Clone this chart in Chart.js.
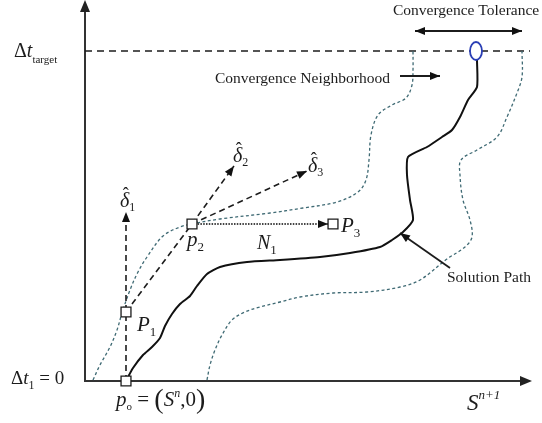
<!DOCTYPE html>
<html>
<head>
<meta charset="utf-8">
<script src="https://cdn.jsdelivr.net/npm/chart.js@4"></script>
<style>
  html, body { margin: 0; padding: 0; background: #fff; }
  canvas { display: block; }
</style>
</head>
<body>
<canvas id="c" width="542" height="423"></canvas>
<script>
// Plot units: horizontal = saturation S, vertical = time-step size Δt.
const sMax = 447;
const dtMax = 381;
const dtTarget = 330;

// Traced solution path from (S^n, 0) up to the target time step
const solutionPath = [
  [42,2],[48,13],[58,26],[67,34],[75,43],[80,55],[87,67],[95,77],[105,85],
  [112,95],[122,107],[135,114],[162,119],[195,121],[235,124],[265,128],
  [295,134],[307,141],[318,149],[328,161],[325,181],[322,206],[323,224],
  [342,234],[357,244],[367,251],[375,264],[383,281],[392,294],[392,321]
];

// Lower and upper bounds of the convergence neighborhood
const neighborhoodLeft = [
  [8,1],[15,16],[25,34],[32,51],[37,68],[45,91],[53,109],[62,124],[78,145],
  [95,154],[107,157],[135,162],[185,168],[218,173],[252,179],[273,189],
  [281,201],[284,221],[286,246],[293,266],[307,276],[321,283],[327,296],
  [328,311],[328,330]
];
const neighborhoodRight = [
  [122,1],[125,16],[130,31],[137,46],[147,61],[160,69],[175,74],[195,79],
  [215,84],[248,88],[282,89],[315,94],[335,101],[362,122],[380,134],
  [387,144],[385,161],[378,181],[375,206],[376,221],[392,231],[412,244],
  [422,264],[432,288],[437,304],[437,330]
];

// Newton iterates p0..p3
const iterateS  = [41, 41, 107, 248];
const iterateDt = [0, 69, 157, 157];

// Search directions (tips of the arrows)
const delta1Tip = [41, 169];
const delta2Tip = [149, 215];
const delta3Tip = [222, 210];
const n1Tip     = [243, 157];

// Converged point on the target line
const convergedPoint = [391, 330];

// Annotation arrows
const toleranceArrow    = [[330, 350], [437, 350]];
const neighborhoodArrow = [[315, 305], [355, 305]];
const pathArrow         = [[365, 113], [315, 148]];

const pts = a => a.map(([x, y]) => ({ x, y }));
const at = i => ({ x: iterateS[i], y: iterateDt[i] });

const INK = '#1c1c1c';
const NBR = '#3f6a74';
const FONT = '"Liberation Serif","Times New Roman",serif';

// Blue ellipse marker for the converged point
const ellipse = document.createElement('canvas');
ellipse.width = 16; ellipse.height = 22;
(() => {
  const g = ellipse.getContext('2d');
  g.fillStyle = '#fff';
  g.strokeStyle = '#2b3fb5';
  g.lineWidth = 1.8;
  g.beginPath();
  g.ellipse(8, 11, 6, 9, 0, 0, Math.PI * 2);
  g.fill(); g.stroke();
})();

const line = (data, extra) => Object.assign({
  data, showLine: true, pointRadius: 0, borderColor: INK, borderWidth: 1.6,
  fill: false, tension: 0, clip: false
}, extra);

const datasets = [
  line(pts([[0, dtTarget], [445, dtTarget]]), { borderDash: [7, 5], borderWidth: 1.6, order: 9 }),
  line(pts(neighborhoodLeft),  { borderColor: NBR, borderWidth: 1.3, borderDash: [3, 2.5], tension: 0.35, order: 8 }),
  line(pts(neighborhoodRight), { borderColor: NBR, borderWidth: 1.3, borderDash: [3, 2.5], tension: 0.35, order: 8 }),
  line(pts(solutionPath), { borderColor: '#111', borderWidth: 2, tension: 0.2, order: 7 }),
  line([at(0), { x: delta1Tip[0], y: delta1Tip[1] }], { borderDash: [6, 4], arrow: 'end', order: 5 }),
  line([at(1), at(2)], { borderDash: [6, 4], order: 5 }),
  line([at(2), { x: delta2Tip[0], y: delta2Tip[1] }], { borderDash: [6, 4], arrow: 'end', order: 5 }),
  line([at(2), { x: delta3Tip[0], y: delta3Tip[1] }], { borderDash: [6, 4], arrow: 'end', order: 5 }),
  line([at(2), { x: n1Tip[0], y: n1Tip[1] }], { borderDash: [1.5, 1.3], borderWidth: 2.2, borderColor: '#444', arrow: 'end', order: 5 }),
  line(pts(toleranceArrow), { borderWidth: 2, arrow: 'both', order: 4 }),
  line(pts(neighborhoodArrow), { borderWidth: 2, arrow: 'end', order: 4 }),
  line(pts(pathArrow), { borderWidth: 1.8, arrow: 'end', order: 4 }),
  {
    data: [0, 1, 2, 3].map(at), showLine: false, pointStyle: 'rect', pointRadius: 7,
    pointBorderColor: INK, pointBackgroundColor: '#fff', pointBorderWidth: 1.3, clip: false, order: 1
  },
  {
    data: [{ x: convergedPoint[0], y: convergedPoint[1] }], showLine: false,
    pointStyle: ellipse, pointRadius: 8, clip: false, order: 0
  }
];

// Axes with arrowheads along the left and bottom of the plot
function head(ctx, from, to, len, half) {
  const a = Math.atan2(to.y - from.y, to.x - from.x);
  ctx.beginPath();
  ctx.moveTo(to.x, to.y);
  ctx.lineTo(to.x - len * Math.cos(a) + half * Math.sin(a), to.y - len * Math.sin(a) - half * Math.cos(a));
  ctx.lineTo(to.x - len * Math.cos(a) - half * Math.sin(a), to.y - len * Math.sin(a) + half * Math.cos(a));
  ctx.closePath();
  ctx.fill();
}

const axesPlugin = {
  id: 'axesPlugin',
  beforeDatasetsDraw(chart) {
    const { ctx, chartArea: c } = chart;
    ctx.save();
    ctx.strokeStyle = '#333'; ctx.fillStyle = '#222'; ctx.lineWidth = 2;
    ctx.beginPath();
    ctx.moveTo(c.left, c.top + 4); ctx.lineTo(c.left, c.bottom); ctx.lineTo(c.right - 4, c.bottom);
    ctx.stroke();
    head(ctx, { x: c.left, y: c.bottom }, { x: c.left, y: c.top }, 12, 5);
    head(ctx, { x: c.left, y: c.bottom }, { x: c.right, y: c.bottom }, 12, 5);
    ctx.restore();
  }
};

const arrowPlugin = {
  id: 'arrowPlugin',
  afterDatasetsDraw(chart) {
    const ctx = chart.ctx;
    chart.data.datasets.forEach((ds, i) => {
      if (!ds.arrow) return;
      const p = chart.getDatasetMeta(i).data;
      const n = p.length;
      ctx.save();
      ctx.fillStyle = '#111';
      head(ctx, p[n - 2], p[n - 1], 10, 4);
      if (ds.arrow === 'both') head(ctx, p[1], p[0], 10, 4);
      ctx.restore();
    });
  }
};

// Text and math labels, anchored in plot units (left edge, baseline)
const R = (t, size, o) => Object.assign({ t, size }, o);
const labels = [
  { at: [-71, 324], runs: [R('Δ', 20), R('t', 20, { italic: true }), R('target', 11, { dy: 6 })] },
  { at: [-74, -3], runs: [R('Δ', 19), R('t', 19, { italic: true }), R('1', 12, { dy: 5 }), R(' = 0', 19)] },
  { at: [31, -25], runs: [R('p', 21, { italic: true }), R('o', 11, { dy: 4 }), R(' = ', 21), R('(', 28, { dy: 2 }),
      R('S', 21, { italic: true }), R('n', 12, { italic: true, dy: -9 }), R(',0', 21), R(')', 28, { dy: 2 })] },
  { at: [382, -29], runs: [R('S', 23, { italic: true }), R('n+1', 13, { italic: true, dy: -11 })] },
  { at: [52, 50], runs: [R('P', 21, { italic: true }), R('1', 13, { dy: 5 })] },
  { at: [102, 135], runs: [R('p', 21, { italic: true }), R('2', 13, { dy: 5 })] },
  { at: [256, 149], runs: [R('P', 21, { italic: true }), R('3', 13, { dy: 5 })] },
  { at: [172, 132], runs: [R('N', 20, { italic: true }), R('1', 13, { dy: 5 })] },
  { at: [35, 174], runs: [R('δ', 20, { italic: true }), R('ˆ', 18, { over: true, dy: -7 }), R('1', 12, { dy: 4 })] },
  { at: [148, 219], runs: [R('δ', 20, { italic: true }), R('ˆ', 18, { over: true, dy: -7 }), R('2', 12, { dy: 4 })] },
  { at: [223, 209], runs: [R('δ', 20, { italic: true }), R('ˆ', 18, { over: true, dy: -7 }), R('3', 12, { dy: 4 })] },
  { at: [308, 366], runs: [R('Convergence Tolerance', 15.5)] },
  { at: [130, 298], runs: [R('Convergence Neighborhood', 15.5)] },
  { at: [362, 99], runs: [R('Solution Path', 15.5)] }
];

const labelPlugin = {
  id: 'labelPlugin',
  afterDraw(chart) {
    const { ctx, scales } = chart;
    ctx.save();
    ctx.fillStyle = INK;
    ctx.textBaseline = 'alphabetic';
    labels.forEach(l => {
      let x = scales.x.getPixelForValue(l.at[0]);
      const y = scales.y.getPixelForValue(l.at[1]);
      let px = x, pw = 0;
      l.runs.forEach(r => {
        ctx.font = (r.italic ? 'italic ' : '') + r.size + 'px ' + FONT;
        const w = ctx.measureText(r.t).width;
        if (r.over) {
          ctx.fillText(r.t, px + pw / 2 - w / 2 + 1, y + (r.dy || 0));
          return;
        }
        ctx.fillText(r.t, x, y + (r.dy || 0));
        px = x; pw = w; x += w;
      });
    });
    ctx.restore();
  }
};

new Chart(document.getElementById('c'), {
  type: 'scatter',
  data: { datasets },
  options: {
    responsive: false,
    devicePixelRatio: 1,
    animation: false,
    events: [],
    layout: { autoPadding: false, padding: { left: 85, right: 10, top: 0, bottom: 42 } },
    scales: {
      x: { type: 'linear', min: 0, max: sMax, display: false },
      y: { type: 'linear', min: 0, max: dtMax, display: false }
    },
    plugins: { legend: { display: false }, tooltip: { enabled: false } }
  },
  plugins: [axesPlugin, arrowPlugin, labelPlugin]
});
</script>
</body>
</html>
